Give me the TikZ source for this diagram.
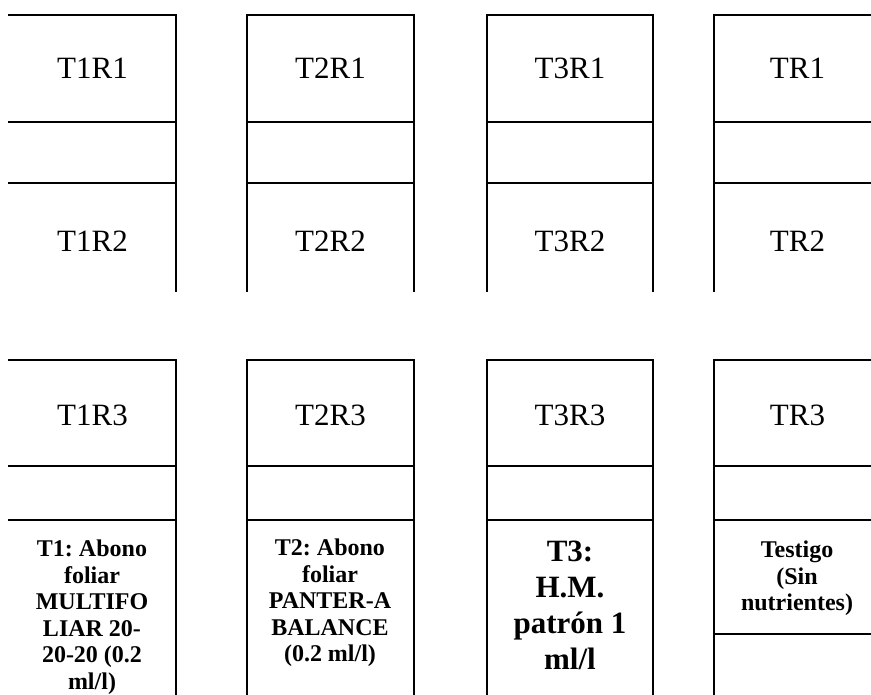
\documentclass[tikz,border=0pt]{standalone}
\usepackage{fontspec}
\setmainfont{Liberation Serif}
\frenchspacing
\usetikzlibrary{positioning}
\tikzset{
  rule/.style={line width=1.8pt,draw=black,line cap=rect},
  plotlab/.style={font=\fontsize{31}{36}\selectfont,inner sep=0pt,anchor=base},
  treat/.style={font=\bfseries\fontsize{24}{26.5}\selectfont,align=center,inner sep=0pt,anchor=north},
  treatbig/.style={treat,font=\bfseries\fontsize{31}{36}\selectfont}
}
\begin{document}
\begin{tikzpicture}[x=1pt,y=-1pt]
  \useasboundingbox (0,0) rectangle (871,695);

  % plots: left edge / right edge / treatment
  \foreach \xl/\xr/\tr in {9/176/T1,247/414/T2,487/653/T3,714/881/T}{
    \draw[rule] (\xl,15)--(\xr,15) (\xl,122)--(\xr,122) (\xl,183)--(\xr,183);
    \draw[rule] (\xl,360)--(\xr,360) (\xl,466)--(\xr,466) (\xl,520)--(\xr,520);
    \node[plotlab] (\tr R1) at ({(\xl+\xr)/2},79) {\tr R1};
    \node[plotlab] (\tr R2) at ({(\xl+\xr)/2},252) {\tr R2};
    \node[plotlab] (\tr R3) at ({(\xl+\xr)/2},425) {\tr R3};
  }
  \foreach \x in {176,247,414,487,653,714}{
    \draw[rule] (\x,15)--(\x,291);
    \draw[rule] (\x,360)--(\x,695);
  }
  \draw[rule] (714,634)--(881,634);

  % treatments
  \node[treat] (T1lab) at (92,540) {T1: Abono\\foliar\\MULTIFO\\LIAR 20-\\20-20 (0.2\\ml/l)};
  \node[treat] (T2lab) at (330,539) {T2: Abono\\foliar\\PANTER-A\\BALANCE\\(0.2 ml/l)};
  \node[treatbig] (T3lab) at (570,541) {T3:\\H.M.\\patr\'on 1\\ml/l};
  \node[treat] (Tlab) at (797,541) {Testigo\\(Sin\\nutrientes)};
\end{tikzpicture}
\end{document}
